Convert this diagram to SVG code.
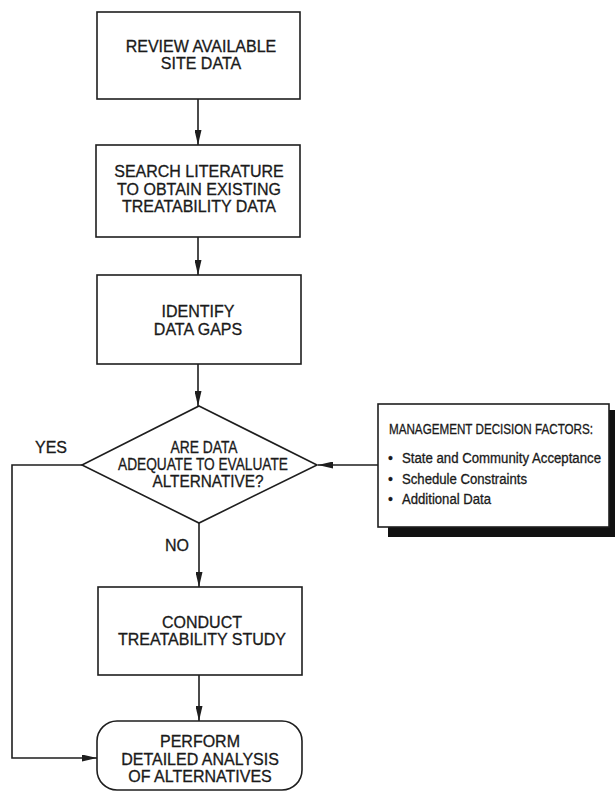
<svg xmlns="http://www.w3.org/2000/svg" width="615" height="794" viewBox="0 0 615 794">
  <style>
    .box { fill: #ffffff; stroke: #1e1e1e; stroke-width: 1.6; }
    .line { fill: none; stroke: #1e1e1e; stroke-width: 1.6; }
    .lbl { font-family: "Liberation Sans", Arial, sans-serif; font-size: 16px; fill: #1a1a1a; stroke: #1a1a1a; stroke-width: 0.3; text-anchor: middle; }
    .note { font-family: "Liberation Sans", Arial, sans-serif; font-size: 14px; fill: #1a1a1a; stroke: #1a1a1a; stroke-width: 0.3; }
  </style>
  <defs>
    <marker id="arrow" markerWidth="15" markerHeight="7" refX="15" refY="3.5" orient="auto" markerUnits="userSpaceOnUse">
      <path d="M0,0 L15,3.5 L0,7 Z" fill="#1e1e1e"/>
    </marker>
  </defs>
  <rect width="615" height="794" fill="#ffffff"/>

  <!-- connectors -->
  <g id="connectors">
    <line class="line" x1="198" y1="99" x2="198" y2="145" marker-end="url(#arrow)"/>
    <line class="line" x1="198" y1="237" x2="198" y2="275" marker-end="url(#arrow)"/>
    <line class="line" x1="198" y1="364" x2="198" y2="406" marker-end="url(#arrow)"/>
    <line class="line" x1="199" y1="523" x2="199" y2="587" marker-end="url(#arrow)"/>
    <line class="line" x1="199" y1="675" x2="199" y2="721" marker-end="url(#arrow)"/>
    <path class="line" d="M82,465 H12 V758 H97" marker-end="url(#arrow)"/>
    <line class="line" x1="378" y1="465" x2="318" y2="465" marker-end="url(#arrow)"/>
    <text class="lbl" x="51" y="453">YES</text>
    <text class="lbl" x="177" y="551">NO</text>
  </g>

  <g id="review">
    <rect class="box" x="97" y="12" width="203" height="87"/>
    <text class="lbl" x="201" y="52">REVIEW AVAILABLE</text>
    <text class="lbl" x="201" y="69">SITE DATA</text>
  </g>

  <g id="search">
    <rect class="box" x="96" y="145" width="204" height="92"/>
    <text class="lbl" x="199" y="177">SEARCH LITERATURE</text>
    <text class="lbl" x="199" y="195">TO OBTAIN EXISTING</text>
    <text class="lbl" x="199" y="212">TREATABILITY DATA</text>
  </g>

  <g id="identify">
    <rect class="box" x="97" y="275" width="204" height="89"/>
    <text class="lbl" x="198" y="317">IDENTIFY</text>
    <text class="lbl" x="198" y="335">DATA GAPS</text>
  </g>

  <g id="decision">
    <polygon class="box" points="199,406 317,465 199,523 82,465"/>
    <text class="lbl" x="204" y="453" textLength="67" lengthAdjust="spacingAndGlyphs">ARE DATA</text>
    <text class="lbl" x="203" y="470" textLength="170" lengthAdjust="spacingAndGlyphs">ADEQUATE TO EVALUATE</text>
    <text class="lbl" x="208" y="487" textLength="111" lengthAdjust="spacingAndGlyphs">ALTERNATIVE?</text>
  </g>

  <g id="factors">
    <rect x="388" y="410" width="227" height="127" fill="#111111"/>
    <rect class="box" x="378" y="404" width="231" height="123"/>
    <text class="note" x="389" y="434" font-size="11.5" textLength="204" lengthAdjust="spacingAndGlyphs">MANAGEMENT DECISION FACTORS:</text>
    <text class="note" x="388" y="463">•</text>
    <text class="note" x="402" y="463" textLength="199" lengthAdjust="spacingAndGlyphs">State and Community Acceptance</text>
    <text class="note" x="388" y="484">•</text>
    <text class="note" x="402" y="484" textLength="125" lengthAdjust="spacingAndGlyphs">Schedule Constraints</text>
    <text class="note" x="388" y="504">•</text>
    <text class="note" x="402" y="504" textLength="89" lengthAdjust="spacingAndGlyphs">Additional Data</text>
  </g>

  <g id="conduct">
    <rect class="box" x="98" y="587" width="204" height="88"/>
    <text class="lbl" x="202" y="628">CONDUCT</text>
    <text class="lbl" x="202" y="645">TREATABILITY STUDY</text>
  </g>

  <g id="perform">
    <rect class="box" x="97" y="721" width="205" height="69" rx="20" ry="20"/>
    <text class="lbl" x="200" y="747">PERFORM</text>
    <text class="lbl" x="200" y="765">DETAILED ANALYSIS</text>
    <text class="lbl" x="200" y="782">OF ALTERNATIVES</text>
  </g>
</svg>
